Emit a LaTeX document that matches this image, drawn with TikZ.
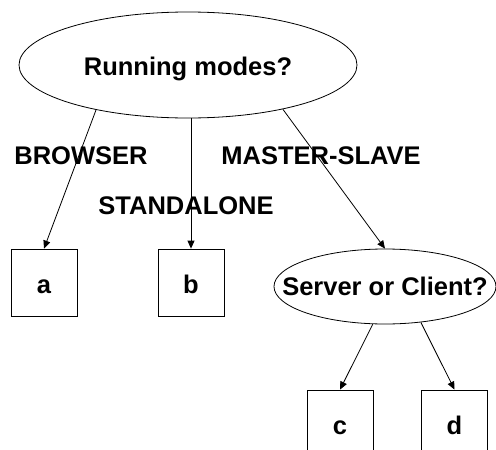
\documentclass[tikz,border=0pt]{standalone}
\usepackage{fontspec}
\setmainfont{Liberation Sans}
\usetikzlibrary{shapes.geometric,arrows.meta}

\begin{document}
\begin{tikzpicture}[x=1pt,y=-1pt,
  every node/.style={font=\fontsize{25.5}{30}\selectfont\bfseries},
  question/.style={draw, ellipse, inner sep=0pt, line width=0.8pt, text depth=0pt},
  leafbox/.style={draw, rectangle, inner sep=0pt, minimum width=66pt, minimum height=67pt,
    line width=0.8pt, text height=21pt, text depth=0pt},
  modelabel/.style={inner sep=0pt},
  link/.style={line width=0.8pt, -{Triangle[length=8pt,width=7pt]}}]
  \useasboundingbox (0,0) rectangle (496,450);
  \clip (0,0) rectangle (496,450);

  % decision nodes
  \node[question, text height=20pt, minimum width=338pt, minimum height=106pt] (top) at (188,65) {\makebox[0pt]{Running modes?}};
  \node[question, text height=17pt, minimum width=222pt, minimum height=75pt] (sc) at (385,286.5) {\makebox[0pt]{Server or Client?}};

  % leaves
  \node[leafbox] (a) at (44,282.5) {a};
  \node[leafbox] (b) at (191,282.5) {b};
  \node[leafbox] (c) at (340,423.5) {c};
  \node[leafbox] (d) at (454.5,423.5) {d};

  % mode labels
  \node[modelabel] (lbrowser) at (81,156) {BROWSER};
  \node[modelabel] (lmaster) at (321,156) {MASTER-SLAVE};
  \node[modelabel] (lstand) at (186,206) {STANDALONE};

  % connectors
  \draw[link] (top.206.6) -- (a.north);
  \draw[link] (top.south -| b.north) -- (b.north);
  \draw[link] (top.335) -- (sc.north);
  \draw[link] (sc.252) -- (c.north);
  \draw[link] (sc.315) -- (d.north);
\end{tikzpicture}
\end{document}
